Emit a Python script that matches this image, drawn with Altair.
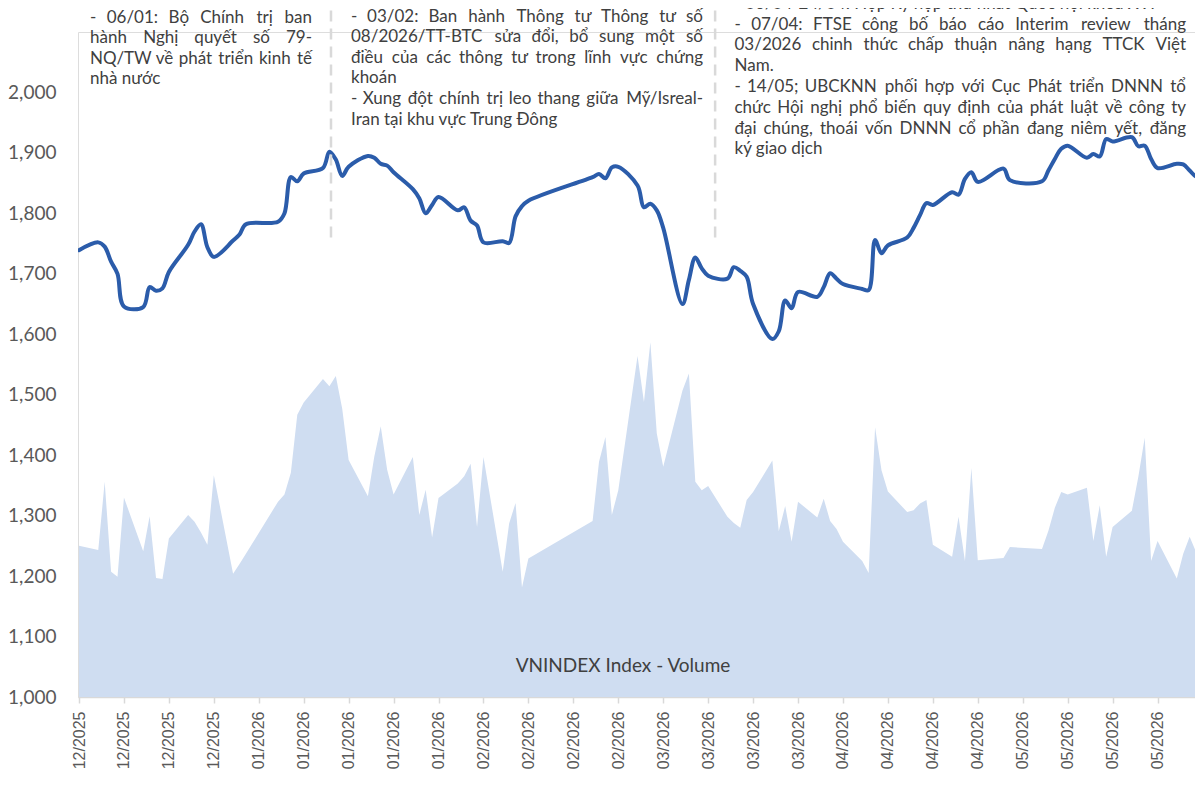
import unicodedata
import altair as alt
import pandas as pd

# ---------------- data ----------------
dates = [
    "2025-12-05", "2025-12-08", "2025-12-09", "2025-12-10", "2025-12-11", "2025-12-12",
    "2025-12-15", "2025-12-16", "2025-12-17", "2025-12-18", "2025-12-19", "2025-12-22",
    "2025-12-23", "2025-12-24", "2025-12-25", "2025-12-26", "2025-12-29", "2025-12-30",
    "2025-12-31",
    "2026-01-05", "2026-01-06", "2026-01-07", "2026-01-08", "2026-01-09", "2026-01-12",
    "2026-01-13", "2026-01-14", "2026-01-15", "2026-01-16", "2026-01-19", "2026-01-20",
    "2026-01-21", "2026-01-22", "2026-01-23", "2026-01-26", "2026-01-27", "2026-01-28",
    "2026-01-29", "2026-01-30",
    "2026-02-02", "2026-02-03", "2026-02-04", "2026-02-05", "2026-02-06", "2026-02-09",
    "2026-02-10", "2026-02-11", "2026-02-12", "2026-02-13", "2026-02-23", "2026-02-24",
    "2026-02-25", "2026-02-26", "2026-02-27",
    "2026-03-02", "2026-03-03", "2026-03-04", "2026-03-05", "2026-03-06", "2026-03-09",
    "2026-03-10", "2026-03-11", "2026-03-12", "2026-03-13", "2026-03-16", "2026-03-17",
    "2026-03-18", "2026-03-19", "2026-03-20", "2026-03-23", "2026-03-24", "2026-03-25",
    "2026-03-26", "2026-03-27", "2026-03-30", "2026-03-31",
    "2026-04-01", "2026-04-02", "2026-04-03", "2026-04-06", "2026-04-07", "2026-04-08",
    "2026-04-09", "2026-04-10", "2026-04-13", "2026-04-14", "2026-04-15", "2026-04-16",
    "2026-04-17", "2026-04-20", "2026-04-21", "2026-04-22", "2026-04-23", "2026-04-24",
    "2026-04-28", "2026-04-29",
    "2026-05-04", "2026-05-05", "2026-05-06", "2026-05-07", "2026-05-08", "2026-05-11",
    "2026-05-12", "2026-05-13", "2026-05-14", "2026-05-15", "2026-05-18", "2026-05-19",
    "2026-05-20", "2026-05-21", "2026-05-22", "2026-05-25", "2026-05-26", "2026-05-27",
    "2026-05-28", "2026-05-29",
]

vnindex = [
    1739, 1752, 1745, 1720, 1700, 1646, 1645, 1678, 1672, 1676, 1703, 1748, 1770, 1782,
    1744, 1728, 1755, 1765, 1782,
    1786, 1800, 1860, 1853, 1866, 1875, 1902, 1889, 1862, 1877, 1895, 1892, 1882, 1879,
    1868, 1840, 1825, 1800, 1814, 1827,
    1805, 1810, 1788, 1780, 1752, 1754, 1751, 1795, 1812, 1821, 1860, 1865, 1858, 1876,
    1877,
    1846, 1810, 1816, 1805, 1776, 1650, 1690, 1727, 1709, 1697, 1692, 1711, 1705, 1695,
    1650, 1592, 1605, 1656, 1643, 1670, 1662, 1678,
    1701, 1692, 1683, 1675, 1673, 1756, 1734, 1747, 1760, 1776, 1797, 1817, 1814, 1835,
    1831, 1857, 1868, 1852, 1874, 1855,
    1853, 1871, 1890, 1907, 1912, 1892, 1898, 1894, 1923, 1919, 1926, 1911, 1912, 1890,
    1875, 1882, 1881, 1871, 1861, 1861,
]

volume = [
    500, 486, 712, 414, 398, 660, 482, 598, 394, 390, 524, 602, 580, 544, 504, 734, 408,
    440, 474,
    646, 670, 742, 934, 974, 1052, 1028, 1062, 954, 784, 664, 796, 896, 752, 670, 794,
    602, 686, 528, 658,
    706, 730, 772, 562, 794, 414, 574, 642, 362, 458, 582, 778, 860, 602, 684,
    1128, 976, 1174, 872, 762, 1014, 1070, 712, 684, 698, 596, 576, 560, 652, 678, 782,
    548, 632, 514, 646, 594, 656,
    582, 556, 514, 450, 410, 892, 750, 680, 612, 618, 640, 652, 504, 464, 596, 450, 758,
    452, 460, 496,
    490, 550, 626, 678, 670, 692, 516, 634, 464, 562, 616, 728, 858, 450, 516, 392, 474,
    530, 480, 444,
]

tick_dates = [
    "2025-12-05", "2025-12-12", "2025-12-19", "2025-12-26", "2026-01-02", "2026-01-09",
    "2026-01-16", "2026-01-23", "2026-01-30", "2026-02-06", "2026-02-13", "2026-02-20",
    "2026-02-27", "2026-03-06", "2026-03-13", "2026-03-20", "2026-03-27", "2026-04-03",
    "2026-04-10", "2026-04-17", "2026-04-24", "2026-05-01", "2026-05-08", "2026-05-15",
    "2026-05-22", "2026-05-29",
]
y_ticks = [1000, 1100, 1200, 1300, 1400, 1500, 1600, 1700, 1800, 1900, 2000]

divider_dates = ["2026-01-13T06:00:00Z", "2026-03-14T02:00:00Z"]
divider_low = [1760, 1760]
divider_high = [2200, 2200]

note_left = [
    "- 06/01: Bộ Chính trị ban",
    "hành Nghị quyết số 79-",
    "NQ/TW về phát triển kinh tế",
    "nhà nước",
]
note_mid = [
    "- 03/02: Ban hành Thông tư Thông tư số",
    "08/2026/TT-BTC sửa đổi, bổ sung một số",
    "điều của các thông tư trong lĩnh vực chứng",
    "khoán",
    "- Xung đột chính trị leo thang giữa Mỹ/Isreal-",
    "Iran tại khu vực Trung Đông",
]
note_right = [
    "- 06/04-24/04: Họp Kỳ họp thứ nhất Quốc hội khóa XVI",
    "- 07/04: FTSE công bố báo cáo Interim review tháng",
    "03/2026 chinh thức chấp thuận nâng hạng TTCK Việt",
    "Nam.",
    "- 14/05; UBCKNN phối hợp với Cục Phát triển DNNN tổ",
    "chức Hội nghị phổ biến quy định của phát luật về công ty",
    "đại chúng, thoái vốn DNNN cổ phần đang niêm yết, đăng",
    "ký giao dịch",
]
volume_label = "VNINDEX Index - Volume"

# ---------------- styling / layout ----------------
FONT = "Lato"
NOTE_SIZE = 17
TEXT_COLOR = "#404040"
AXIS_COLOR = "#595959"

# approximate Lato advance widths (em) used to justify the note lines
_W = {
    " ": .193, "a": .50, "b": .56, "c": .46, "d": .56, "e": .52, "f": .32, "g": .50,
    "h": .56, "i": .24, "j": .24, "k": .50, "l": .24, "m": .84, "n": .56, "o": .56,
    "p": .56, "q": .56, "r": .36, "s": .42, "t": .34, "u": .56, "v": .50, "w": .76,
    "x": .48, "y": .50, "z": .44, "A": .66, "B": .64, "C": .68, "D": .74, "E": .56,
    "F": .54, "G": .72, "H": .75, "I": .28, "J": .40, "K": .64, "L": .50, "M": .90,
    "N": .75, "O": .79, "P": .60, "Q": .79, "R": .62, "S": .52, "T": .56, "U": .72,
    "V": .65, "W": .98, "X": .62, "Y": .60, "Z": .58, "/": .36, "-": .36, ":": .24,
    ",": .22, ";": .24, ".": .22, "đ": .56, "Đ": .76,
}
for _d in "0123456789":
    _W[_d] = .58


def est_width(s, size):
    tot = 0.0
    for ch in s:
        if ch in _W:
            tot += _W[ch]
            continue
        nfd = unicodedata.normalize("NFD", ch)
        tot += _W.get(nfd[0], .55) + (0.05 if "\u031b" in nfd else 0.0)
    return tot * size * 1.04


def layout_note(lines, x0, x1, top, lh):
    left_rows, right_rows = [], []
    for i, ln in enumerate(lines):
        y = top + i * lh
        final = i == len(lines) - 1 or lines[i + 1].startswith("- ")
        words = ln.split(" ")
        if final or len(words) < 2:
            left_rows.append({"x": x0, "y": y, "t": ln})
            continue
        widths = [est_width(w, NOTE_SIZE) for w in words]
        gap = (x1 - x0 - sum(widths)) / (len(words) - 1)
        cx = x0
        for w, wd in zip(words[:-1], widths[:-1]):
            left_rows.append({"x": cx, "y": y, "t": w})
            cx += wd + gap
        right_rows.append({"x": x1, "y": y, "t": words[-1]})
    return left_rows, right_rows


# boxes in plot coordinates (plot origin is 78px, 32px into the page)
boxes = [
    (note_left, 12, 234, -22.0, 20.3),
    (note_mid, 273, 625, -23.5, 20.6),
    (note_right, 656.5, 1108, -36.2, 20.8),
]
lrows, rrows = [], []
for lines, x0, x1, top, lh in boxes:
    a, b = layout_note(lines, x0, x1, top, lh)
    lrows += a
    rrows += b
left_df = pd.DataFrame(lrows)
right_df = pd.DataFrame(rrows)

# ---------------- chart ----------------
df = pd.DataFrame({"date": dates, "close": vnindex, "volume": volume})
div_df = pd.DataFrame({"date": divider_dates, "lo": divider_low, "hi": divider_high})


def dt(s, h=0, m=0):
    y, mo, d = (int(p) for p in s.split("-"))
    return alt.DateTime(year=y, month=mo, date=d, hours=h, minutes=m, utc=True)


x_scale = alt.Scale(type="utc", domain=[dt("2025-12-04", 20, 15), dt("2026-05-27", 20, 0)])
y_scale = alt.Scale(domain=[1000, 2100], nice=False, zero=False)
vol_scale = alt.Scale(domain=[0, 2200], nice=False)

x_axis = alt.Axis(
    values=[dt(s) for s in tick_dates],
    format="%m/%Y",
    labelAngle=270,
    labelFont="Liberation Sans",
    labelFontSize=16,
    labelColor=AXIS_COLOR,
    labelPadding=8,
    labelFlush=False,
    labelOverlap=False,
    domainColor="#d9d9d9",
    domainWidth=1.5,
    tickColor="#d9d9d9",
    tickWidth=1.5,
    tickSize=6,
    grid=False,
    title=None,
)

area = alt.Chart(df).mark_area(color="#cfddf1", clip=True).encode(
    x=alt.X("date:T", scale=x_scale, axis=x_axis),
    y=alt.Y("volume:Q", scale=vol_scale, axis=None),
)

line = alt.Chart(df).mark_line(
    color="#2b5caa", strokeWidth=4, interpolate="catmull-rom", clip=True,
    strokeJoin="round", strokeCap="round",
).encode(
    x=alt.X("date:T", scale=x_scale, axis=None),
    y=alt.Y(
        "close:Q",
        scale=y_scale,
        axis=alt.Axis(
            values=y_ticks, format=",.0f", domain=False, ticks=False, grid=False,
            labelFont=FONT, labelFontSize=19, labelColor=AXIS_COLOR, labelPadding=22,
            title=None,
        ),
    ),
)

rules = alt.Chart(div_df).mark_rule(
    color="#d9d9d9", strokeWidth=2.5, strokeDash=[11, 7], clip=False
).encode(
    x=alt.X("date:T", scale=x_scale, axis=None),
    y=alt.Y("lo:Q", scale=y_scale, axis=None),
    y2="hi:Q",
)

notes_l = alt.Chart(left_df).mark_text(
    align="left", baseline="top", font=FONT, fontSize=NOTE_SIZE, color=TEXT_COLOR,
).encode(
    x=alt.X("x:Q", scale=None, axis=None),
    y=alt.Y("y:Q", scale=None, axis=None),
    text="t:N",
)
notes_r = alt.Chart(right_df).mark_text(
    align="right", baseline="top", font=FONT, fontSize=NOTE_SIZE, color=TEXT_COLOR,
).encode(
    x=alt.X("x:Q", scale=None, axis=None),
    y=alt.Y("y:Q", scale=None, axis=None),
    text="t:N",
)

vol_text = alt.Chart(pd.DataFrame({"k": [0]})).mark_text(
    text=volume_label, align="center", baseline="middle", font=FONT, fontSize=19,
    color=TEXT_COLOR,
).encode(x=alt.value(545), y=alt.value(634))

chart = alt.layer(area, line, rules, notes_l, notes_r, vol_text).resolve_scale(
    x="independent", y="independent"
).properties(
    width=1117,
    height=665,
    autosize=alt.AutoSizeParams(type="none"),
    padding={"left": 70, "top": 24, "right": 0, "bottom": 76},
).configure_view(stroke=None).configure(background="white")

chart.save("out.html", embed_options={"renderer": "svg", "actions": False})
